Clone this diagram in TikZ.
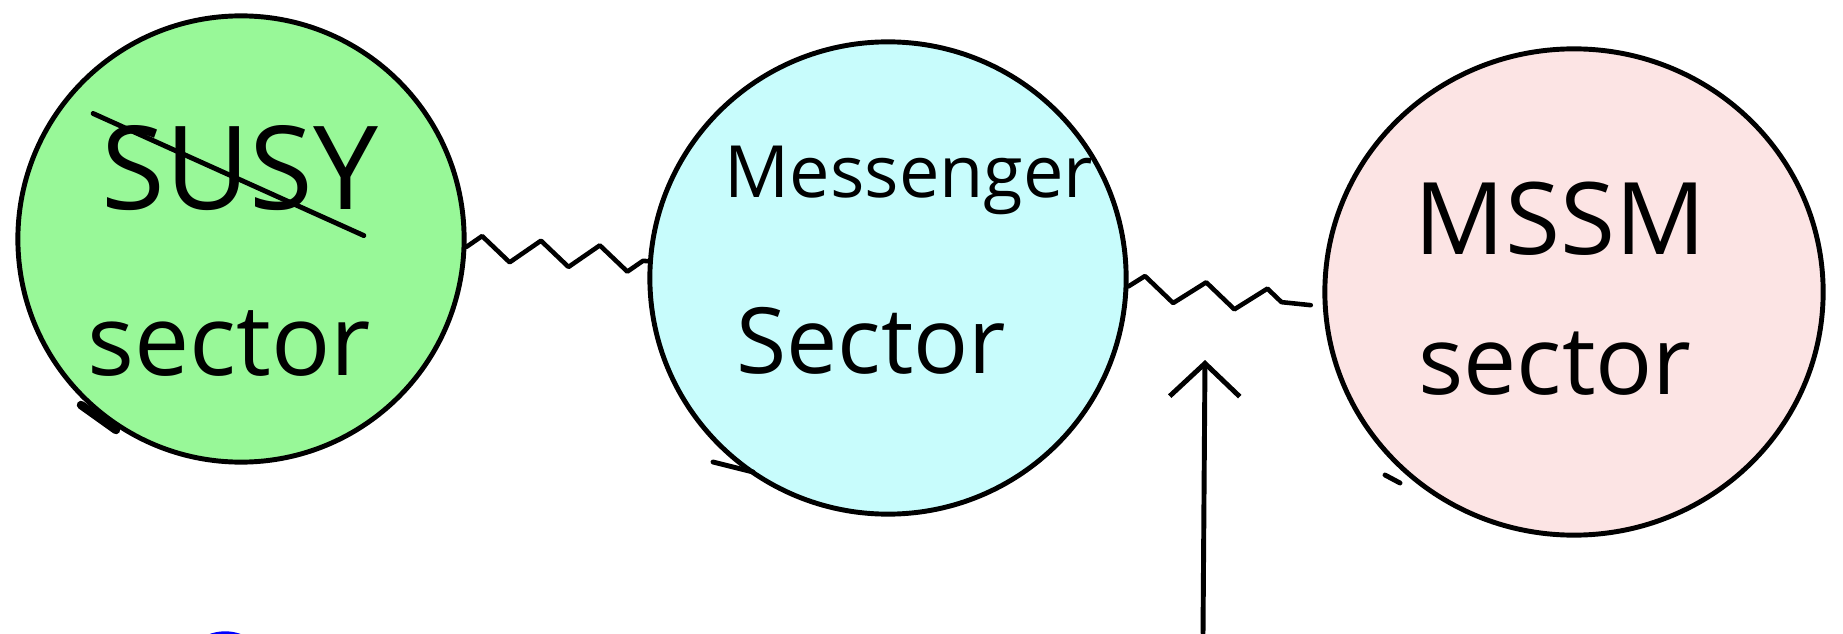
\documentclass[tikz,border=0pt]{standalone}
\usepackage{fontspec}
\setmainfont{Open Sans}
\usepackage{tikz}
\usetikzlibrary{
    arrows.meta,
    positioning,
    calc,
    decorations.pathmorphing,
    shapes.geometric
}
\definecolor{secGreen}{HTML}{98F898}
\definecolor{secCyan}{HTML}{C8FCFC}
\definecolor{secPink}{HTML}{FCE4E4}

\begin{document}
\begin{tikzpicture}[x=0.01cm,y=0.01cm,line width=1.4pt,line cap=round,line join=round,
        sector/.style={ellipse,draw=black,inner sep=0pt},
        handtext/.style={anchor=base,inner sep=0pt,font=\fontsize{26}{30}\selectfont},
        wiggle/.style={line width=1.3pt,decorate,decoration={zigzag,segment length=0.59cm,amplitude=0.12cm}}]
        \useasboundingbox (0,0) rectangle (1843,633);

        % Sectors
        \node[sector,fill=secGreen,minimum width=4.46cm,minimum height=4.46cm] (susy) at (241,394) {};
        \node[sector,fill=secCyan,minimum width=4.76cm,minimum height=4.72cm] (mess) at (888,355) {};
        \node[sector,fill=secPink,minimum width=4.98cm,minimum height=4.86cm] (mssm) at (1574,341) {};

        % Pen overshoots
        \draw[line width=2.4pt] (81,228) -- (116,203);
        \draw (713,171) -- (753,161);
        \draw (1385,158) -- (1400,150);

        % Labels
        \node[handtext,font=\fontsize{33}{38}\selectfont] (susytxt) at (240,423) {SUSY};
        \draw ([shift={(-6,10)}]susytxt.north west) -- ([shift={(-17,-22)}]susytxt.south east);
        \node[handtext,font=\fontsize{28}{32}\selectfont] (susysec) at (229,258) {sector};
        \node[handtext,font=\fontsize{20.5}{24}\selectfont] (messtxt) at (909,435) {Messenger};
        \node[handtext] (messsec) at (871,260) {Sector};
        \node[handtext,font=\fontsize{28.5}{32}\selectfont] (mssmtxt) at (1560,379) {MSSM};
        \node[handtext,font=\fontsize{27}{32}\selectfont] (mssmsec) at (1555,239) {sector};

        % Couplings
        \coordinate (wend) at ([xshift=-0.12cm]mssm.183);
        \draw[wiggle] (susy.-2) -- (mess.176);
        \draw[wiggle,decoration={segment length=0.615cm}] (mess.-2) -- (wend);

        % Pointer
        \coordinate (tail) at (1203,0);
        \coordinate (tip) at (1205,273);
        \draw[-{Straight Barb[length=0.33cm,width=0.7cm]}] (tail) -- (tip);

        % Blue mark at the bottom edge
        \draw[blue,line width=1.8pt] (257,-20) arc[start angle=15,end angle=165,x radius=33,y radius=25];
    \end{tikzpicture}
\end{document}
